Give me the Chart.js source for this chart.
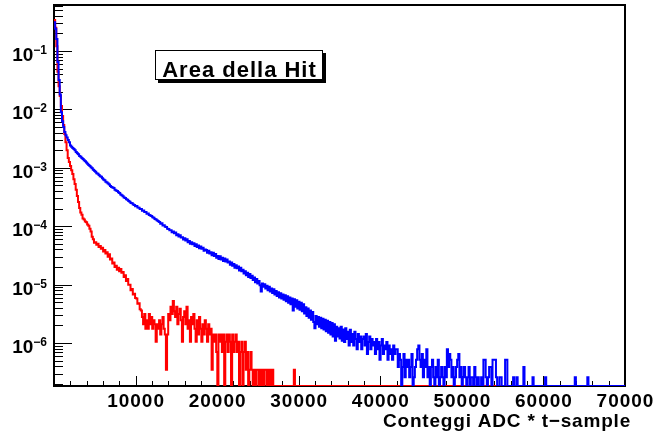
<!DOCTYPE html>
<html>
<head>
<meta charset="utf-8">
<script src="https://cdn.jsdelivr.net/npm/chart.js@4.4.0/dist/chart.umd.min.js"></script>
<style>
  html, body { margin: 0; padding: 0; background: #fff; }
  #wrap { width: 655px; height: 439px; position: relative; }
  canvas { display: block; }
</style>
</head>
<body>
<div id="wrap"><canvas id="c" width="655" height="439"></canvas></div>
<script>
// Histogram binning and axis ranges
const BIN_WIDTH = 140;
const X_MAX = 70000;
const Y_MIN = 1.84e-7;
const Y_MAX = 0.613;

const chartTitle = 'Area della Hit';
const xAxisTitle = 'Conteggi ADC * t\u2212sample';
const xTickValues = [10000, 20000, 30000, 40000, 50000, 60000, 70000];
const xTickLabels = ['10000', '20000', '30000', '40000', '50000', '60000', '70000'];
const xMinorStep = 2000;
const yDecades = [-1, -2, -3, -4, -5, -6];

// Normalised hit-area distribution, blue histogram (500 bins of 140 counts)
const blueArea = [
  0.31, 0.24, 0.16, 0.065, 0.032, 0.018, 0.0089, 0.0063, 0.0050, 0.0041,
  0.0036, 0.0033, 0.0030, 0.00275, 0.0024, 0.0023, 0.00219, 0.00209, 0.00200, 0.00186,
  0.00178, 0.00170, 0.00160, 0.00155, 0.00148, 0.00141, 0.00135, 0.00129, 0.00123, 0.00117,
  0.00112, 0.00107, 0.00102, 0.00098, 0.00093, 0.00089, 0.00086, 0.00081, 0.00079, 0.00075,
  0.00072, 0.00070, 0.00066, 0.00063, 0.00061, 0.00058, 0.00056, 0.00054, 0.00052, 0.00049,
  0.00047, 0.00046, 0.00045, 0.00042, 0.00041, 0.00040, 0.00038, 0.00037, 0.00035, 0.00034,
  3.25e-4, 3.1e-4, 3.05e-4, 2.9e-4, 2.85e-4, 2.7e-4, 2.62e-4, 2.5e-4, 2.48e-4, 2.36e-4,
  2.31e-4, 2.2e-4, 2.22e-4, 2.1e-4, 2.07e-4, 1.98e-4, 1.97e-4, 1.85e-4, 1.86e-4, 1.76e-4,
  1.75e-4, 1.64e-4, 1.65e-4, 1.56e-4, 1.53e-4, 1.49e-4, 1.43e-4, 1.40e-4, 1.33e-4, 1.31e-4,
  1.25e-4, 1.22e-4, 1.18e-4, 1.10e-4, 1.12e-4, 1.03e-4, 1.04e-4, 9.8e-5, 9.7e-5, 9.1e-5,
  9.0e-5, 8.5e-5, 8.5e-5, 7.9e-5, 8.1e-5, 7.6e-5, 7.8e-5, 7.0e-5, 7.3e-5, 6.7e-5,
  7.0e-5, 6.4e-5, 6.5e-5, 5.9e-5, 6.2e-5, 5.7e-5, 6.0e-5, 5.3e-5, 5.6e-5, 5.0e-5,
  5.3e-5, 4.9e-5, 5.1e-5, 4.6e-5, 4.9e-5, 4.4e-5, 4.7e-5, 4.2e-5, 4.5e-5, 4.1e-5,
  4.3e-5, 3.8e-5, 4.0e-5, 3.9e-5, 3.5e-5, 3.8e-5, 3.4e-5, 3.6e-5, 3.2e-5, 3.5e-5,
  3.1e-5, 3.35e-5, 2.9e-5, 3.1e-5, 2.75e-5, 3.05e-5, 2.7e-5, 2.9e-5, 2.55e-5, 2.8e-5,
  2.5e-5, 2.7e-5, 2.4e-5, 2.5e-5, 2.2e-5, 2.4e-5, 2.1e-5, 2.25e-5, 1.95e-5, 2.15e-5,
  1.9e-5, 2.05e-5, 1.75e-5, 1.95e-5, 1.7e-5, 1.8e-5, 1.55e-5, 1.7e-5, 1.45e-5, 1.6e-5,
  1.35e-5, 1.52e-5, 1.3e-5, 1.42e-5, 1.2e-5, 1.32e-5, 1.1e-5, 1.25e-5, 1.05e-5, 1.15e-5,
  9.8e-6, 7.6e-6, 1.05e-5, 9.2e-6, 1.02e-5, 8.6e-6, 9.6e-6, 8.0e-6, 9.2e-6, 7.6e-6,
  8.6e-6, 7.2e-6, 8.3e-6, 6.8e-6, 7.8e-6, 6.4e-6, 7.4e-6, 6.0e-6, 7.1e-6, 5.8e-6,
  6.8e-6, 5.5e-6, 6.6e-6, 5.2e-6, 6.3e-6, 4.9e-6, 6.0e-6, 4.6e-6, 5.8e-6, 3.6e-6,
  5.6e-6, 4.2e-6, 5.4e-6, 3.9e-6, 5.1e-6, 3.7e-6, 4.9e-6, 3.5e-6, 4.6e-6, 3.2e-6,
  4.1e-6, 2.9e-6, 3.9e-6, 2.7e-6, 3.6e-6, 2.5e-6, 3.4e-6, 2.3e-6, 1.8e-6, 2.9e-6,
  2.1e-6, 2.8e-6, 1.9e-6, 2.7e-6, 1.8e-6, 2.6e-6, 1.7e-6, 2.5e-6, 1.6e-6, 2.4e-6,
  1.5e-6, 2.3e-6, 1.4e-6, 2.2e-6, 1.3e-6, 2.1e-6, 1.1e-6, 1.9e-6, 1.3e-6, 1.8e-6,
  1.2e-6, 1.9e-6, 1.1e-6, 1.7e-6, 1.04e-6, 1.8e-6, 1.17e-6, 1.56e-6, 9.1e-7, 1.69e-6,
  1.04e-6, 1.43e-6, 9.1e-7, 1.56e-6, 1.17e-6, 7.8e-7, 1.43e-6, 1.04e-6, 1.3e-6, 7.8e-7,
  1.17e-6, 1.3e-6, 9.1e-7, 1.43e-6, 6.5e-7, 1.04e-6, 1.3e-6, 7.8e-7, 1.17e-6, 9.1e-7,
  1.04e-6, 6.5e-7, 1.17e-6, 7.8e-7, 1.04e-6, 5.2e-7, 9.1e-7, 1.17e-6, 6.5e-7, 9.1e-7,
  7.8e-7, 1.04e-6, 5.2e-7, 9.1e-7, 6.5e-7, 7.8e-7, 5.2e-7, 9.1e-7, 6.5e-7, 7.8e-7,
  7.8e-7, 3.9e-7, 6.5e-7, 5.2e-7, 0, 3.9e-7, 6.5e-7, 2.6e-7, 5.2e-7, 3.9e-7,
  5.2e-7, 2.6e-7, 3.9e-7, 6.5e-7, 0, 2.6e-7, 3.9e-7, 5.2e-7, 7.8e-7, 9.1e-7,
  5.2e-7, 3.9e-7, 6.5e-7, 2.6e-7, 5.2e-7, 3.9e-7, 7.8e-7, 2.6e-7, 3.9e-7, 0,
  3.9e-7, 5.2e-7, 2.6e-7, 1.3e-7, 3.9e-7, 2.6e-7, 5.2e-7, 0, 2.6e-7, 3.9e-7,
  2.6e-7, 0, 3.9e-7, 2.6e-7, 7.8e-7, 3.9e-7, 6.5e-7, 5.2e-7, 2.6e-7, 3.9e-7,
  0, 2.6e-7, 3.9e-7, 5.2e-7, 6.5e-7, 2.6e-7, 3.9e-7, 0, 2.6e-7, 3.9e-7,
  2.6e-7, 0, 2.6e-7, 3.9e-7, 0, 2.6e-7, 2.6e-7, 0, 3.9e-7, 2.6e-7,
  0, 2.6e-7, 0, 0, 2.6e-7, 0, 5.2e-7, 5.2e-7, 2.6e-7, 0,
  2.6e-7, 3.9e-7, 3.9e-7, 0, 5.2e-7, 5.2e-7, 5.2e-7, 2.6e-7, 0, 0,
  2.6e-7, 2.6e-7, 0, 0, 0, 5.2e-7, 5.2e-7, 0, 0, 0,
  0, 0, 2.6e-7, 0, 0, 2.6e-7, 0, 0, 0, 0,
  0, 3.9e-7, 0, 0, 0, 0, 0, 0, 0, 2.6e-7,
  0, 0, 0, 0, 0, 0, 0, 0, 0, 0,
  2.6e-7, 0, 0, 0, 0, 0, 0, 0, 0, 0,
  0, 0, 0, 0, 0, 0, 0, 0, 0, 0,
  0, 0, 0, 0, 0, 0, 2.6e-7, 0, 0, 0,
  0, 0, 0, 0, 0, 0, 0, 2.6e-7, 0, 0,
  0, 0, 0, 0, 0, 0, 0, 0, 0, 0,
  0, 0, 0, 0, 0, 0, 0, 0, 0, 0,
  0, 0, 0, 0, 0, 0, 0, 0, 0, 0
];

// Normalised hit-area distribution, red histogram (same binning)
const redArea = [
  0.34, 0.25, 0.12, 0.044, 0.025, 0.017, 0.0114, 0.0077, 0.0054, 0.0038,
  0.00275, 0.0020, 0.00148, 0.00126, 0.00107, 0.00091, 0.00078, 0.00064, 0.00053, 0.00042,
  3.3e-4, 2.6e-4, 2.05e-4, 1.72e-4, 1.58e-4, 1.36e-4, 1.31e-4, 1.2e-4, 1.17e-4, 1.07e-4,
  1.02e-4, 9.1e-5, 8.1e-5, 6.6e-5, 6.0e-5, 5.2e-5, 5.3e-5, 4.8e-5, 5.0e-5, 4.4e-5,
  4.6e-5, 4.1e-5, 4.3e-5, 3.7e-5, 3.9e-5, 3.4e-5, 3.6e-5, 3.0e-5, 3.3e-5, 2.7e-5,
  2.8e-5, 2.3e-5, 2.4e-5, 2.0e-5, 2.1e-5, 1.8e-5, 1.95e-5, 1.7e-5, 1.85e-5, 1.6e-5,
  1.65e-5, 1.35e-5, 1.45e-5, 1.15e-5, 1.25e-5, 1.0e-5, 1.0e-5, 8.0e-6, 8.4e-6, 6.8e-6,
  7.0e-6, 5.9e-6, 5.8e-6, 4.7e-6, 4.8e-6, 3.8e-6, 3.6e-6, 2.8e-6, 2.1e-6, 3.15e-6,
  1.75e-6, 2.45e-6, 1.75e-6, 3.15e-6, 2.1e-6, 2.8e-6, 1.75e-6, 2.45e-6, 2.1e-6, 1.05e-6,
  2.1e-6, 1.75e-6, 2.45e-6, 1.4e-6, 2.1e-6, 2.8e-6, 1.75e-6, 1.4e-6, 3.5e-7, 1.4e-6,
  3.15e-6, 2.45e-6, 4.2e-6, 3.15e-6, 5.25e-6, 3.5e-6, 2.8e-6, 4.2e-6, 2.1e-6, 3.15e-6,
  3.85e-6, 2.45e-6, 1.05e-6, 2.8e-6, 3.5e-6, 2.1e-6, 4.2e-6, 1.75e-6, 2.45e-6, 1.05e-6,
  2.8e-6, 2.1e-6, 3.15e-6, 1.75e-6, 1.05e-6, 2.45e-6, 1.4e-6, 2.8e-6, 1.75e-6, 1.05e-6,
  2.1e-6, 1.4e-6, 2.45e-6, 1.75e-6, 1.05e-6, 2.1e-6, 1.4e-6, 1.75e-6, 3.5e-7, 1.4e-6,
  1.05e-6, 1.4e-6, 7.0e-7, 0, 1.4e-6, 1.05e-6, 1.4e-6, 7.0e-7, 1.4e-6, 0,
  1.05e-6, 1.4e-6, 7.0e-7, 1.4e-6, 1.05e-6, 0, 1.4e-6, 7.0e-7, 1.05e-6, 1.4e-6,
  7.0e-7, 1.05e-6, 0, 7.0e-7, 1.05e-6, 0, 7.0e-7, 1.05e-6, 3.5e-7, 7.0e-7,
  0, 3.5e-7, 7.0e-7, 3.5e-7, 0, 3.5e-7, 0, 3.5e-7, 3.5e-7, 0,
  3.5e-7, 0, 3.5e-7, 0, 3.5e-7, 3.5e-7, 0, 3.5e-7, 0, 3.5e-7,
  0, 3.5e-7, 0, 0, 0, 0, 0, 0, 0, 0,
  0, 0, 0, 0, 0, 0, 0, 0, 0, 0,
  3.5e-7, 0, 0, 0, 0, 0, 0, 0, 0, 0,
  0, 0, 0, 0, 0, 0, 0, 0, 0, 0,
  0, 0, 0, 0, 0, 0, 0, 0, 0, 0,
  0, 0, 0, 0, 0, 0, 0, 0, 0, 0,
  0, 0, 0, 0, 0, 0, 0, 0, 0, 0,
  0, 0, 0, 0, 0, 0, 0, 0, 0, 0,
  0, 0, 0, 0, 0, 0, 0, 0, 0, 0,
  0, 0, 0, 0, 0, 0, 0, 0, 0, 0,
  0, 0, 0, 0, 0, 0, 0, 0, 0, 0,
  0, 0, 0, 0, 0, 0, 0, 0, 0, 0,
  0, 0, 0, 0, 0, 0, 0, 0, 0, 0,
  0, 0, 0, 0, 0, 0, 0, 0, 0, 0,
  0, 0, 0, 0, 0, 0, 0, 0, 0, 0,
  0, 0, 0, 0, 0, 0, 0, 0, 0, 0,
  0, 0, 0, 0, 0, 0, 0, 0, 0, 0,
  0, 0, 0, 0, 0, 0, 0, 0, 0, 0,
  0, 0, 0, 0, 0, 0, 0, 0, 0, 0,
  0, 0, 0, 0, 0, 0, 0, 0, 0, 0,
  0, 0, 0, 0, 0, 0, 0, 0, 0, 0,
  0, 0, 0, 0, 0, 0, 0, 0, 0, 0,
  0, 0, 0, 0, 0, 0, 0, 0, 0, 0,
  0, 0, 0, 0, 0, 0, 0, 0, 0, 0,
  0, 0, 0, 0, 0, 0, 0, 0, 0, 0,
  0, 0, 0, 0, 0, 0, 0, 0, 0, 0,
  0, 0, 0, 0, 0, 0, 0, 0, 0, 0,
  0, 0, 0, 0, 0, 0, 0, 0, 0, 0,
  0, 0, 0, 0, 0, 0, 0, 0, 0, 0,
  0, 0, 0, 0, 0, 0, 0, 0, 0, 0,
  0, 0, 0, 0, 0, 0, 0, 0, 0, 0
];

// Step outline: one point per bin low edge plus the closing edge.
// Empty bins sit on the axis floor, as on a log-scaled histogram frame.
function histPoints(values) {
  const pts = values.map((v, i) => ({ x: i * BIN_WIDTH, y: Math.max(v, Y_MIN) }));
  pts.push({ x: values.length * BIN_WIDTH, y: Math.max(values[values.length - 1], Y_MIN) });
  return pts;
}

const FONT = '"Liberation Sans", Arial, Helvetica, sans-serif';

const frameAndLabels = {
  id: 'frameAndLabels',
  beforeDatasetsDraw(chart) {
    const { ctx, chartArea: a, scales: { x, y } } = chart;
    ctx.save();
    // frame
    ctx.strokeStyle = '#000';
    ctx.lineWidth = 2;
    ctx.strokeRect(a.left, a.top, a.right - a.left, a.bottom - a.top);
    // inward tick marks
    ctx.lineWidth = 1;
    ctx.beginPath();
    for (let d = -7; d <= 0; d++) {
      for (let m = 1; m <= 9; m++) {
        const v = m * Math.pow(10, d);
        if (v < Y_MIN || v > Y_MAX) continue;
        const py = Math.round(y.getPixelForValue(v)) + 0.5;
        const len = m === 1 ? 18 : 9;
        ctx.moveTo(a.left, py);
        ctx.lineTo(a.left + len, py);
      }
    }
    for (let xv = xMinorStep; xv <= X_MAX; xv += xMinorStep) {
      const px = Math.round(x.getPixelForValue(xv)) + 0.5;
      const len = xv % 10000 === 0 ? 10 : 5;
      ctx.moveTo(px, a.bottom);
      ctx.lineTo(px, a.bottom - len);
    }
    ctx.stroke();
    ctx.restore();
  },
  afterDraw(chart) {
    const { ctx, scales: { x, y } } = chart;
    ctx.save();
    ctx.fillStyle = '#000';
    ctx.textBaseline = 'alphabetic';

    // y labels: 10 with a superscript exponent
    const rightEdge = 47;
    yDecades.forEach(d => {
      const ty = y.getPixelForValue(Math.pow(10, d));
      const exp = '\u2212' + Math.abs(d);
      ctx.font = 'bold 19px ' + FONT;
      const wBase = ctx.measureText('10').width;
      ctx.font = 'bold 12px ' + FONT;
      const wExp = ctx.measureText(exp).width;
      const x0 = rightEdge - wBase - wExp;
      ctx.textAlign = 'left';
      ctx.font = 'bold 19px ' + FONT;
      ctx.fillText('10', x0, ty + 10);
      ctx.font = 'bold 12px ' + FONT;
      ctx.fillText(exp, x0 + wBase, ty + 3);
    });

    // x labels
    ctx.font = 'bold 19px ' + FONT;
    ctx.letterSpacing = '1px';
    ctx.textAlign = 'center';
    xTickValues.forEach((v, i) => {
      ctx.fillText(xTickLabels[i], x.getPixelForValue(v) + 0.5, 407);
    });

    // x axis title
    ctx.font = 'bold 19px ' + FONT;
    ctx.letterSpacing = '0.8px';
    ctx.textAlign = 'right';
    ctx.fillText(xAxisTitle, 631, 427);

    // title box with drop shadow
    ctx.letterSpacing = '0px';
    ctx.fillStyle = '#000';
    ctx.fillRect(158, 53, 168, 30);
    ctx.fillStyle = '#fff';
    ctx.fillRect(155, 50, 168, 30);
    ctx.strokeStyle = '#000';
    ctx.lineWidth = 1;
    ctx.strokeRect(155.5, 50.5, 167, 29);
    ctx.fillStyle = '#000';
    ctx.font = 'bold 22px ' + FONT;
    ctx.letterSpacing = '1px';
    ctx.textAlign = 'center';
    ctx.fillText(chartTitle, 239.5, 76.5);
    ctx.restore();
  }
};

new Chart(document.getElementById('c'), {
  type: 'line',
  data: {
    datasets: [
      {
        label: 'blu',
        data: histPoints(blueArea),
        borderColor: '#0000ff',
        borderWidth: 2,
        stepped: 'before',
        pointRadius: 0,
        fill: false,
        clip: 0,
        borderJoinStyle: 'miter',
        borderCapStyle: 'butt'
      },
      {
        label: 'rosso',
        data: histPoints(redArea),
        borderColor: '#ff0000',
        borderWidth: 2,
        stepped: 'before',
        pointRadius: 0,
        fill: false,
        clip: 0,
        borderJoinStyle: 'miter',
        borderCapStyle: 'butt'
      }
    ]
  },
  options: {
    responsive: false,
    animation: false,
    devicePixelRatio: 1,
    events: [],
    layout: { padding: { left: 54, top: 5, right: 30, bottom: 53 } },
    plugins: {
      legend: { display: false },
      tooltip: { enabled: false },
      title: { display: false }
    },
    scales: {
      x: { type: 'linear', min: 0, max: X_MAX, display: false },
      y: { type: 'logarithmic', min: Y_MIN, max: Y_MAX, display: false }
    }
  },
  plugins: [frameAndLabels]
});
</script>
</body>
</html>
